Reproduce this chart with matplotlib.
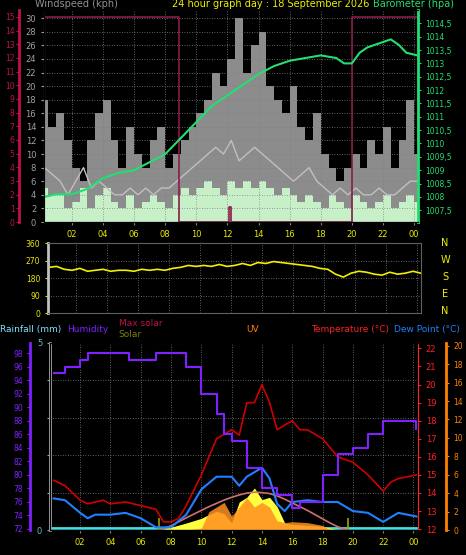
import numpy as np
import matplotlib.pyplot as plt

# ---- data ----
t_half = np.arange(0.25, 24.3, 0.5)   # 49 half-hour points

wind_gust = [18, 14, 16, 12, 8, 6, 12, 16, 18, 12, 8, 14, 10, 8, 12, 14, 8, 10, 12, 14,
             16, 18, 22, 20, 24, 30, 22, 26, 28, 20, 18, 16, 20, 14, 12, 16, 10, 8, 6, 8,
             10, 8, 12, 10, 14, 8, 12, 18, 10]
wind_avg = [8, 7, 6, 4, 6, 8, 5, 6, 5, 4, 4, 5, 4, 5, 4, 5, 5, 6, 7, 8,
            9, 10, 11, 10, 12, 9, 10, 11, 10, 9, 8, 7, 6, 7, 8, 6, 5, 4, 5, 4,
            5, 4, 4, 5, 4, 4, 5, 6, 6]
wind_speed = [5, 4, 4, 2, 3, 5, 2, 4, 5, 3, 2, 4, 2, 3, 4, 3, 2, 4, 5, 4,
              5, 6, 5, 4, 6, 5, 6, 5, 6, 5, 4, 5, 4, 3, 4, 3, 2, 4, 3, 2,
              4, 3, 2, 3, 4, 2, 3, 4, 3]
wind_dir = [235, 240, 225, 220, 230, 215, 220, 225, 215, 220, 220, 215, 225, 220, 225, 220, 230, 235, 245, 240,
            245, 240, 250, 240, 245, 255, 245, 260, 255, 265, 260, 255, 250, 245, 240, 230, 225, 200, 185, 205,
            215, 210, 200, 195, 210, 200, 205, 215, 205]

baro_t = [0.25, 1, 2, 3, 4, 5, 6, 7, 8, 9, 10, 11, 12, 13, 14, 15, 16, 17, 18, 19, 19.5, 20, 20.5, 21, 22, 22.5, 23, 23.5, 24.2]
baro = [1008.0, 1008.1, 1008.1, 1008.3, 1008.7, 1008.9, 1009.0, 1009.3, 1009.6, 1010.2, 1010.8, 1011.4, 1011.8,
        1012.2, 1012.6, 1012.9, 1013.1, 1013.2, 1013.3, 1013.2, 1013.0, 1013.0, 1013.4, 1013.6, 1013.8, 1013.9,
        1013.7, 1013.4, 1013.3]

daylight_t = [0.2, 8.9, 12.1, 12.2, 20.0, 24.3]
daylight = [15, 0, 1.1, 0, 15, 15]

hum_t = [0.25, 1, 2, 2.5, 5.2, 7, 8.5, 9, 10, 11, 11.5, 12, 13, 14, 15, 16, 16.5, 17, 18, 19, 20, 21, 22, 23.5, 24.2]
humidity = [95, 96, 97, 98, 97, 98, 98, 96, 92, 89, 86, 85, 81, 78, 77, 75, 76, 76, 80, 83, 84, 86, 88, 88, 86.8]

temp_t = [0.25, 1, 2, 2.5, 3, 3.5, 4, 5, 6, 7, 7.5, 8, 8.5, 9, 10, 11, 12, 12.5, 13, 13.5, 14, 14.5, 15, 16,
          16.5, 17, 18, 19, 20, 21, 22, 22.5, 23, 24.2]
temperature = [14.7, 14.4, 13.6, 13.4, 13.5, 13.6, 13.4, 13.5, 13.3, 13.1, 12.4, 12.4, 12.6, 13.3, 15.0, 17.0,
               17.5, 17.2, 19.0, 19.0, 20.0, 19.0, 17.5, 18.0, 17.5, 17.5, 17.0, 16.0, 15.7, 15.0, 14.1, 14.6,
               14.8, 15.0]
dew_t = [0.25, 1, 2, 2.5, 3, 4, 5, 6, 7, 8, 9, 10, 11, 12, 12.5, 13, 14, 14.5, 15, 15.5, 16, 17, 18, 19, 20,
         21, 22, 23, 24.2]
dewpoint = [13.7, 13.6, 12.9, 12.6, 12.8, 12.8, 12.9, 12.6, 12.1, 12.1, 12.8, 14.2, 14.9, 14.9, 14.4, 14.9,
            15.4, 14.8, 13.4, 13.0, 13.5, 13.6, 13.5, 13.5, 13.0, 12.9, 12.4, 12.9, 12.7]

sun_t = [7.2, 8, 9, 10, 10.5, 11, 11.5, 12, 12.5, 13, 13.5, 14, 14.5, 15, 15.5, 16, 17, 18, 18.5, 19, 19.7]
solar = [0, 60, 150, 250, 330, 400, 350, 150, 600, 700, 900, 650, 700, 500, 150, 120, 100, 80, 40, 10, 0]
max_solar = [0, 90, 260, 420, 500, 570, 640, 700, 750, 790, 810, 800, 780, 730, 660, 580, 420, 240, 150, 70, 0]
uv = [0, 0, 0, 0.2, 2.0, 2.5, 3.0, 1.5, 2.5, 3.5, 2.5, 3.0, 2.5, 1.0, 0.8, 0.9, 0.8, 0.5, 0, 0, 0]

hour_ticks = [2, 4, 6, 8, 10, 12, 14, 16, 18, 20, 22, 24]
hour_labels = ["02", "04", "06", "08", "10", "12", "14", "16", "18", "20", "22", "00"]

GRID = dict(color="#808080", linestyle=(0, (1, 2)), linewidth=0.6)


def style(ax, xlim):
    ax.set_facecolor("black")
    ax.set_xlim(*xlim)
    ax.set_xticks(hour_ticks)
    ax.set_xticklabels(hour_labels, color="#e8e800", fontsize=6)
    ax.grid(True, **GRID)
    for s in ax.spines.values():
        s.set_color("#606060")
    ax.tick_params(axis="x", colors="#808080", labelcolor="#e8e800", length=2)


fig = plt.figure(figsize=(4.66, 5.55), dpi=100, facecolor="black")

# ---- top panel: wind + barometer ----
ax1 = fig.add_axes([0.094, 0.600, 0.803, 0.382])
style(ax1, (0.2, 24.25))
ax1.fill_between(t_half, wind_gust, step="mid", color="#8c8c8c", linewidth=0)
ax1.fill_between(t_half, wind_speed, step="mid", color="#c8f0c8", linewidth=0)
ax1.plot(t_half, wind_avg, color="#c0c0c0", linewidth=1)
ax1.set_ylim(0, 31.2)
ax1.set_yticks(range(0, 31, 2))
ax1.tick_params(axis="y", colors="#a0a0a0", labelsize=6, length=2)
ax1.spines["left"].set_color("#c0c0c0")

axr = ax1.twinx()
axr.plot(daylight_t, daylight, drawstyle="steps-post", color="#8b1a4a", linewidth=1.2)
axr.set_ylim(0, 15.5)
axr.spines["left"].set_position(("outward", 18))
axr.spines["left"].set_color("#c0104a")
axr.spines["left"].set_linewidth(2)
axr.yaxis.set_ticks_position("left")
axr.set_yticks(range(0, 16))
axr.tick_params(axis="y", colors="#c0104a", labelsize=5.5, length=2, pad=1)

axb = ax1.twinx()
axb.plot(baro_t, baro, color="#20e070", linewidth=1.5)
axb.set_ylim(1007.06, 1015.0)
axb.set_yticks(np.arange(1007.5, 1014.6, 0.5))
axb.set_yticklabels([f"{v:g}".replace(".", ",") for v in np.arange(1007.5, 1014.6, 0.5)])
axb.tick_params(axis="y", colors="#20e070", labelsize=5.5, length=2)
axb.spines["right"].set_color("#20e070")
axb.spines["right"].set_linewidth(2)

fig.text(0.075, 0.984, "Windspeed (kph)", color="#909090", fontsize=7, va="bottom")
fig.text(0.37, 0.984, "24 hour graph day : 18 September 2026", color="#f0f000", fontsize=7, va="bottom")
fig.text(0.80, 0.984, "Barometer (hpa)", color="#20e070", fontsize=7, va="bottom")

# ---- middle panel: wind direction ----
ax2 = fig.add_axes([0.103, 0.436, 0.800, 0.126])
style(ax2, (0.2, 24.25))
ax2.plot(t_half, wind_dir, color="#f0f000", linewidth=1.2)
ax2.set_ylim(0, 360)
ax2.set_yticks([0, 90, 180, 270, 360])
ax2.tick_params(axis="y", colors="#e8e800", labelsize=5.5, length=2)
ax2.tick_params(axis="x", labelbottom=False, length=0)
ax2.spines["left"].set_color("#c0c0c0")
ax2.spines["left"].set_linewidth(2)
for i, c in enumerate("NWSEN"):
    fig.text(0.955, 0.562 - i * 0.0305, c, color="#f0f000", fontsize=7, ha="center", va="center")

fig.text(0.0, 0.402, "Rainfall (mm)", color="#80e0ff", fontsize=6.5)
fig.text(0.143, 0.402, "Humidity", color="#8020ff", fontsize=6.5)
fig.text(0.255, 0.413, "Max solar", color="#c0104a", fontsize=6.5)
fig.text(0.255, 0.393, "Solar", color="#808000", fontsize=6.5)
fig.text(0.528, 0.402, "UV", color="#ff8000", fontsize=6.5)
fig.text(0.668, 0.402, "Temperature (°C)", color="#ff2020", fontsize=6.5)
fig.text(0.845, 0.402, "Dew Point (°C)", color="#2080ff", fontsize=6.5)

# ---- bottom panel ----
ax3 = fig.add_axes([0.107, 0.045, 0.790, 0.337])
style(ax3, (0.0, 24.3))
ax3.set_ylim(0, 5)
ax3.set_yticks([0, 1, 2, 3, 4, 5])
ax3.set_yticklabels(["0", "", "", "", "", "5"])
ax3.tick_params(axis="y", colors="#60c0c0", labelsize=6, length=2)
ax3.spines["left"].set_color("#c0c0c0")
ax3.spines["left"].set_linewidth(2)
ax3.axhline(0.05, color="#40e0e0", linewidth=2)

axs = ax3.twinx()
axs.fill_between(sun_t, solar, color="#ffff40", linewidth=0)
axs.plot(sun_t, max_solar, color="#d07070", linewidth=1.2)
axs.vlines([7.2, 19.7], 0, 260, color="#a0a000", linewidth=1.2)
axs.set_ylim(0, 4000)
axs.set_yticks([])

axu = ax3.twinx()
axu.fill_between(sun_t, uv, color="#ff9020", alpha=0.85, linewidth=0)
axu.set_ylim(0, 20.3)
axu.set_yticks(range(0, 21, 2))
axu.spines["right"].set_position(("outward", 20))
axu.spines["right"].set_color("#ff8000")
axu.spines["right"].set_linewidth(2)
axu.tick_params(axis="y", colors="#ff8000", labelsize=5.5, length=2)

axt = ax3.twinx()
axt.plot(temp_t, temperature, color="#d00000", linewidth=1.2)
axt.plot(dew_t, dewpoint, color="#2080ff", linewidth=1.5)
axt.set_ylim(11.95, 22.3)
axt.set_yticks(range(12, 23))
axt.tick_params(axis="y", colors="#ff2020", labelsize=6, length=2)
axt.spines["right"].set_color("#ff2020")

axh = ax3.twinx()
axh.plot(hum_t, humidity, drawstyle="steps-post", color="#8020ff", linewidth=1.5)
axh.set_ylim(71.8, 99.5)
axh.set_yticks(range(72, 99, 2))
axh.spines["left"].set_position(("outward", 14))
axh.spines["left"].set_color("#8020ff")
axh.spines["left"].set_linewidth(2)
axh.spines["right"].set_visible(False)
axh.yaxis.set_ticks_position("left")
axh.tick_params(axis="y", colors="#8020ff", labelsize=5.5, length=2)

fig.savefig("out.png", dpi=100, facecolor="black")
